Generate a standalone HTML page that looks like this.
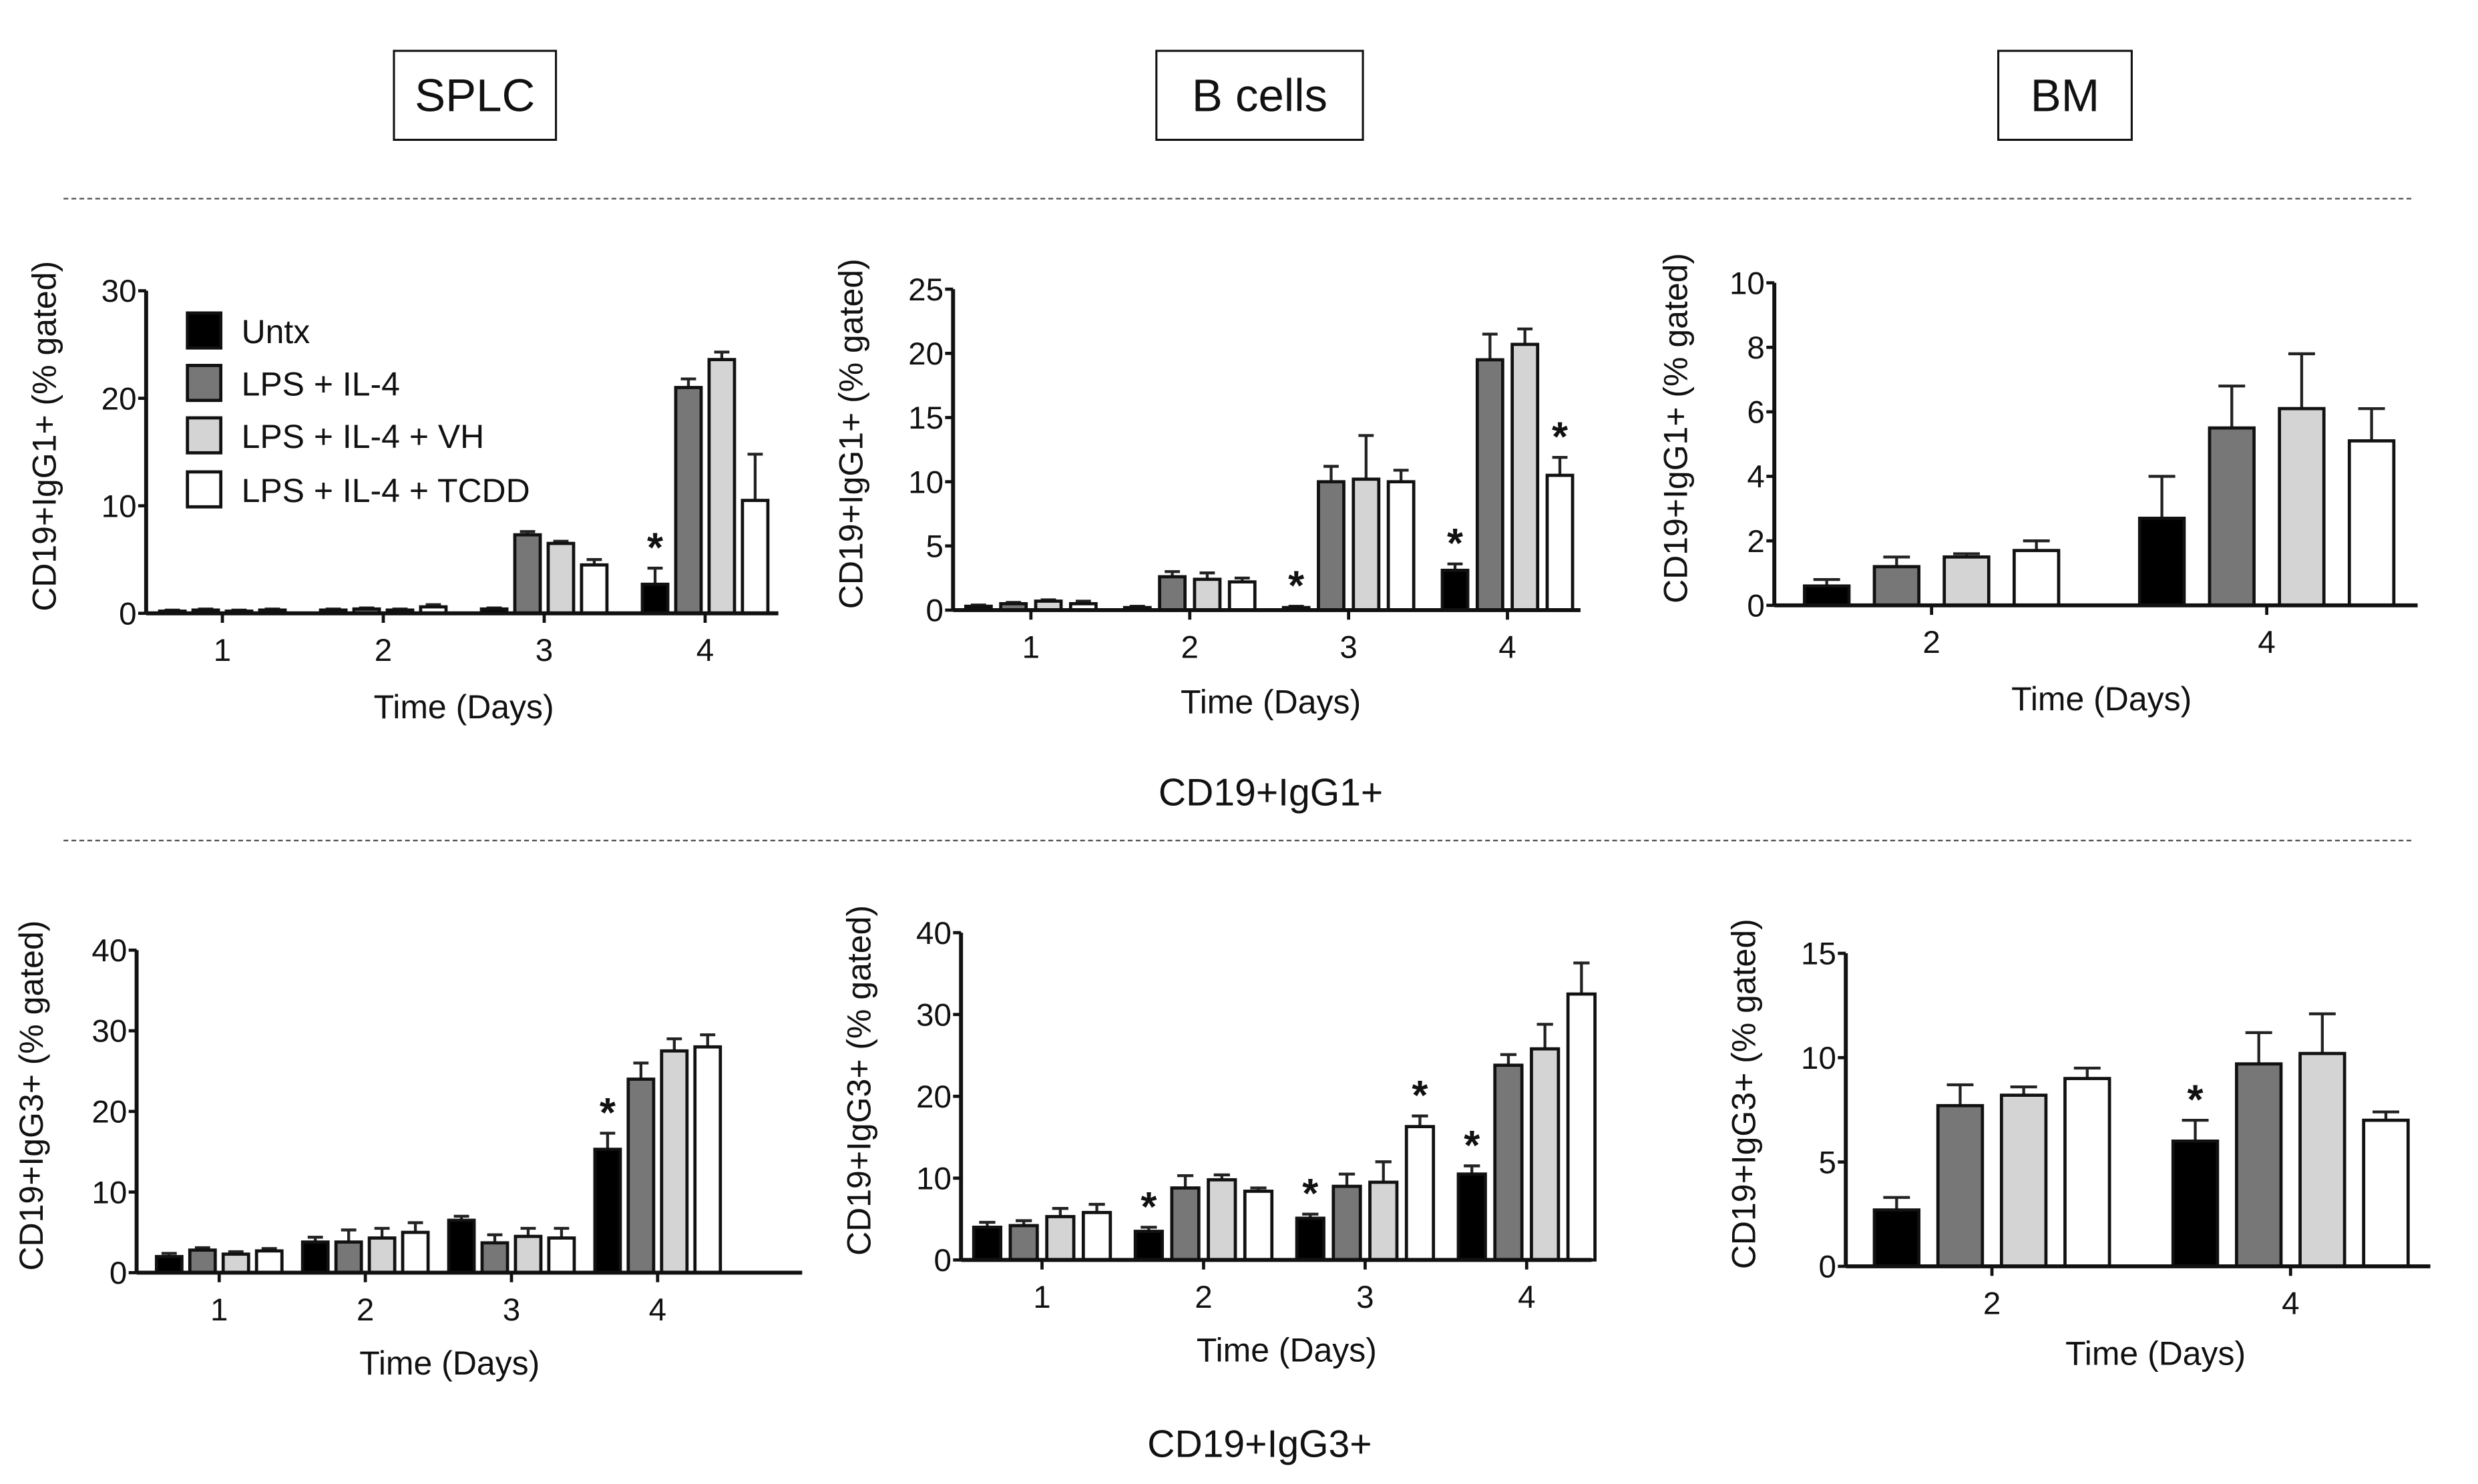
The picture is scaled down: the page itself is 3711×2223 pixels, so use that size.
<!DOCTYPE html>
<html><head><meta charset="utf-8"><style>
html,body{margin:0;padding:0;background:#fff}
svg{display:block}
text{font-family:"Liberation Sans",Arial,sans-serif;fill:#111}
</style></head><body>
<svg id="fig" width="3711" height="2223" viewBox="0 0 1560 934" preserveAspectRatio="none" xmlns="http://www.w3.org/2000/svg">
<rect x="0" y="0" width="1560" height="934" fill="#fff"/>
<g><rect x="248" y="32" width="102" height="56" fill="#fff" stroke="#111" stroke-width="1.3"/><text x="299" y="70" text-anchor="middle" font-size="29">SPLC</text></g>
<g><rect x="728" y="32" width="130" height="56" fill="#fff" stroke="#111" stroke-width="1.3"/><text x="793" y="70" text-anchor="middle" font-size="29">B cells</text></g>
<g><rect x="1258" y="32" width="84" height="56" fill="#fff" stroke="#111" stroke-width="1.3"/><text x="1300" y="70" text-anchor="middle" font-size="29">BM</text></g>
<line x1="40" y1="125" x2="1520" y2="125" stroke="#555" stroke-width="1" stroke-dasharray="3,2"/>
<line x1="40" y1="529" x2="1520" y2="529" stroke="#555" stroke-width="1" stroke-dasharray="3,2"/>
<text x="800" y="507" text-anchor="middle" font-size="24">CD19+IgG1+</text>
<text x="793" y="917" text-anchor="middle" font-size="24">CD19+IgG3+</text>
<g>
<rect x="118" y="197" width="21" height="22" fill="#000" stroke="#111" stroke-width="2"/><text x="152" y="216" font-size="21">Untx</text>
<rect x="118" y="230" width="21" height="22" fill="#777" stroke="#111" stroke-width="2"/><text x="152" y="249" font-size="21">LPS + IL-4</text>
<rect x="118" y="263" width="21" height="22" fill="#d4d4d4" stroke="#111" stroke-width="2"/><text x="152" y="282" font-size="21">LPS + IL-4 + VH</text>
<rect x="118" y="297" width="21" height="22" fill="#fff" stroke="#111" stroke-width="2"/><text x="152" y="316" font-size="21">LPS + IL-4 + TCDD</text>
</g>
</svg>
<script>
// ---------- data ----------
const seriesNames = ['untx','lps-il4','lps-il4-vh','lps-il4-tcdd'];
const seriesFill = ['#000','#777','#d4d4d4','#fff'];

const splcG1Days = ['1','2','3','4'];
const splcG1Untx = [0.2,0.3,0.4,2.7];
const splcG1Lps = [0.3,0.4,7.3,21];
const splcG1Vh = [0.2,0.3,6.5,23.6];
const splcG1Tcdd = [0.3,0.6,4.5,10.5];
const splcG1Err = [[0.1,0.1,0.1,1.5],[0.1,0.1,0.3,0.8],[0.1,0.1,0.2,0.7],[0.1,0.2,0.5,4.3]];
const splcG1Ticks = [0,10,20,30];
const splcG1Stars = [[0,3]];

const bG1Days = ['1','2','3','4'];
const bG1Untx = [0.3,0.2,0.2,3.1];
const bG1Lps = [0.5,2.6,10,19.5];
const bG1Vh = [0.7,2.4,10.2,20.7];
const bG1Tcdd = [0.5,2.2,10,10.5];
const bG1Err = [[0.1,0.1,0.1,0.5],[0.1,0.4,1.2,2],[0.1,0.5,3.4,1.2],[0.2,0.3,0.9,1.4]];
const bG1Ticks = [0,5,10,15,20,25];
const bG1Stars = [[0,2],[0,3],[3,3]];

const bmG1Days = ['2','4'];
const bmG1Untx = [0.6,2.7];
const bmG1Lps = [1.2,5.5];
const bmG1Vh = [1.5,6.1];
const bmG1Tcdd = [1.7,5.1];
const bmG1Err = [[0.2,1.3],[0.3,1.3],[0.1,1.7],[0.3,1.0]];
const bmG1Ticks = [0,2,4,6,8,10];
const bmG1Stars = [];

const splcG3Days = ['1','2','3','4'];
const splcG3Untx = [2,3.8,6.5,15.3];
const splcG3Lps = [2.8,3.8,3.7,24];
const splcG3Vh = [2.3,4.3,4.5,27.5];
const splcG3Tcdd = [2.7,5,4.3,28];
const splcG3Err = [[0.4,0.6,0.5,2],[0.3,1.5,1,2],[0.3,1.2,1,1.5],[0.3,1.2,1.2,1.5]];
const splcG3Ticks = [0,10,20,30,40];
const splcG3Stars = [[0,3]];

const bG3Days = ['1','2','3','4'];
const bG3Untx = [4,3.5,5.1,10.5];
const bG3Lps = [4.2,8.8,9,23.8];
const bG3Vh = [5.3,9.8,9.5,25.8];
const bG3Tcdd = [5.8,8.4,16.3,32.5];
const bG3Err = [[0.6,0.5,0.5,1],[0.6,1.5,1.5,1.3],[1,0.6,2.5,3],[1,0.4,1.3,3.8]];
const bG3Ticks = [0,10,20,30,40];
const bG3Stars = [[0,1],[0,2],[3,2],[0,3]];

const bmG3Days = ['2','4'];
const bmG3Untx = [2.7,6];
const bmG3Lps = [7.7,9.7];
const bmG3Vh = [8.2,10.2];
const bmG3Tcdd = [9,7];
const bmG3Err = [[0.6,1],[1,1.5],[0.4,1.9],[0.5,0.4]];
const bmG3Ticks = [0,5,10,15];
const bmG3Stars = [[0,1]];

// ---------- layout ----------
const NS = 'http://www.w3.org/2000/svg';
const svg = document.getElementById('fig');
function mk(tag, attrs, parent){const e=document.createElementNS(NS,tag);for(const k in attrs)e.setAttribute(k,attrs[k]);(parent||svg).appendChild(e);return e;}

function panel(name, L, days, series, errs, ticks, stars, yTitle){
  const g = mk('g',{});
  
  
  const ymax = ticks[ticks.length-1];
  const Y = v => L.y0 - (v/ymax)*(L.y0-L.yTop);
  const X = i => L.xFirst + i*L.xStep;
  series.forEach((vals,s)=>{
    vals.forEach((v,i)=>{
      const cx = X(i) + (s-1.5)*L.pitch;
      const top = Y(v), et = Y(v+errs[s][i]);
      const el = mk('line',{x1:cx,x2:cx,y1:top,y2:et,stroke:'#222','stroke-width':1.8},g);
      
      
      const cap = mk('line',{x1:cx-L.bw*0.3,x2:cx+L.bw*0.3,y1:et,y2:et,stroke:'#222','stroke-width':1.8},g);
      
      
      const r = mk('rect',{x:cx-L.bw/2,y:top,width:L.bw,height:Math.max(L.y0-top,0.5),fill:seriesFill[s],stroke:'#111','stroke-width':2},g);
      
      
    });
  });
  stars.forEach(([s,i])=>{
    const cx = X(i) + (s-1.5)*L.pitch;
    const t = mk('text',{x:cx,y:Y(series[s][i]+errs[s][i])-4,'text-anchor':'middle','font-size':26,'font-weight':'bold'},g);
    t.textContent='*';
    
    
  });
  const ya = mk('line',{x1:L.ax,x2:L.ax,y1:L.yTop,y2:L.y0,stroke:'#111','stroke-width':2.5},g);
  
  
  const xa = mk('line',{x1:L.ax,x2:L.xEnd,y1:L.y0,y2:L.y0,stroke:'#111','stroke-width':2.5},g);
  
  
  ticks.forEach(tv=>{
    mk('line',{x1:L.ax-5,x2:L.ax,y1:Y(tv),y2:Y(tv),stroke:'#111','stroke-width':2},g);
    const t = mk('text',{x:L.ax-6,y:Y(tv)+7,'text-anchor':'end','font-size':20},g);
    t.textContent = tv;
    
    
  });
  days.forEach((d,i)=>{
    mk('line',{x1:X(i),x2:X(i),y1:L.y0,y2:L.y0+6,stroke:'#111','stroke-width':2},g);
    const t = mk('text',{x:X(i),y:L.y0+30,'text-anchor':'middle','font-size':20},g);
    t.textContent = d;
    
    
  });
  const xt = mk('text',{x:L.xtX,y:L.xtY,'text-anchor':'middle','font-size':21},g);
  xt.textContent='Time (Days)';
  
  
  const cy = (L.yTop+L.y0)/2 - 10;
  const yt = mk('text',{x:0,y:0,'text-anchor':'middle','font-size':21,transform:'translate('+L.ytX+','+cy+') rotate(-90)'},g);
  yt.textContent=yTitle;
  
  
}

panel('panel-splc-igg1',{ax:92,y0:386,yTop:183,xFirst:140,xStep:101.3,xEnd:490,pitch:21,bw:16,xtX:292,xtY:452,ytX:35},
  splcG1Days,[splcG1Untx,splcG1Lps,splcG1Vh,splcG1Tcdd],splcG1Err,splcG1Ticks,splcG1Stars,'CD19+IgG1+ (% gated)');
panel('panel-bcells-igg1',{ax:600,y0:384,yTop:182,xFirst:649,xStep:100,xEnd:995,pitch:22,bw:16,xtX:800,xtY:449,ytX:543},
  bG1Days,[bG1Untx,bG1Lps,bG1Vh,bG1Tcdd],bG1Err,bG1Ticks,bG1Stars,'CD19+IgG1+ (% gated)');
panel('panel-bm-igg1',{ax:1117,y0:381,yTop:178,xFirst:1216,xStep:211,xEnd:1522,pitch:44,bw:28,xtX:1323,xtY:447,ytX:1062},
  bmG1Days,[bmG1Untx,bmG1Lps,bmG1Vh,bmG1Tcdd],bmG1Err,bmG1Ticks,bmG1Stars,'CD19+IgG1+ (% gated)');
panel('panel-splc-igg3',{ax:86,y0:801,yTop:598,xFirst:138,xStep:92,xEnd:505,pitch:21,bw:16,xtX:283,xtY:865,ytX:27},
  splcG3Days,[splcG3Untx,splcG3Lps,splcG3Vh,splcG3Tcdd],splcG3Err,splcG3Ticks,splcG3Stars,'CD19+IgG3+ (% gated)');
panel('panel-bcells-igg3',{ax:605,y0:793,yTop:587,xFirst:656,xStep:101.7,xEnd:1002,pitch:23,bw:17,xtX:810,xtY:857,ytX:548},
  bG3Days,[bG3Untx,bG3Lps,bG3Vh,bG3Tcdd],bG3Err,bG3Ticks,bG3Stars,'CD19+IgG3+ (% gated)');
panel('panel-bm-igg3',{ax:1162,y0:797,yTop:600,xFirst:1254,xStep:188,xEnd:1530,pitch:40,bw:28,xtX:1357,xtY:859,ytX:1105},
  bmG3Days,[bmG3Untx,bmG3Lps,bmG3Vh,bmG3Tcdd],bmG3Err,bmG3Ticks,bmG3Stars,'CD19+IgG3+ (% gated)');
</script>
</body></html>
